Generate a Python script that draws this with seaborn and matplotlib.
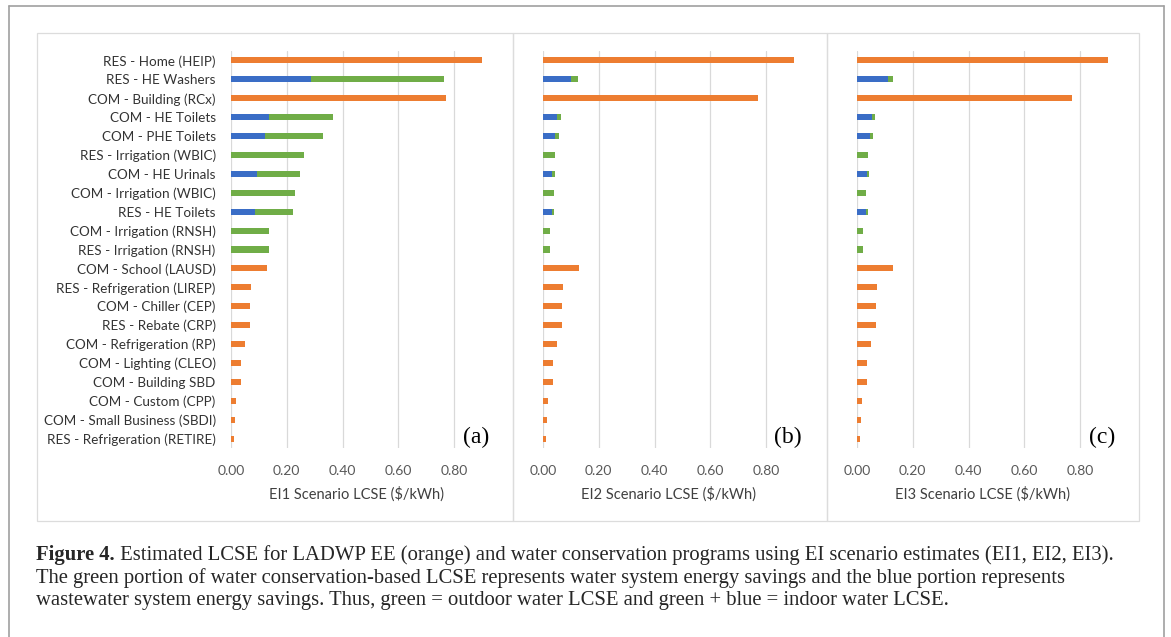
import numpy as np
import pandas as pd
import matplotlib
matplotlib.use("Agg")
import matplotlib.pyplot as plt
import seaborn as sns
from matplotlib.patches import Rectangle
from matplotlib.lines import Line2D

# ======================
# Datos
# ======================
programs = [
    "RES - Home (HEIP)", "RES - HE Washers", "COM - Building (RCx)",
    "COM - HE Toilets", "COM - PHE Toilets", "RES - Irrigation (WBIC)",
    "COM - HE Urinals", "COM - Irrigation (WBIC)", "RES - HE Toilets",
    "COM - Irrigation (RNSH)", "RES - Irrigation (RNSH)", "COM - School (LAUSD)",
    "RES - Refrigeration (LIREP)", "COM - Chiller (CEP)", "RES - Rebate (CRP)",
    "COM - Refrigeration (RP)", "COM - Lighting (CLEO)", "COM - Building SBD",
    "COM - Custom (CPP)", "COM - Small Business (SBDI)", "RES - Refrigeration (RETIRE)",
]

# EE programs (orange), same in all scenarios
ee_lcse = [0.90, 0, 0.77, 0, 0, 0, 0, 0, 0, 0, 0,
           0.128, 0.072, 0.069, 0.068, 0.050, 0.035, 0.035, 0.018, 0.014, 0.010]

# water conservation: green + blue total, and blue (wastewater) part
water_ei1 = [0, 0.765, 0, 0.366, 0.329, 0.261, 0.247, 0.229, 0.222, 0.135, 0.135,
             0, 0, 0, 0, 0, 0, 0, 0, 0, 0]
waste_ei1 = [0, 0.286, 0, 0.137, 0.123, 0, 0.092, 0, 0.085, 0, 0,
             0, 0, 0, 0, 0, 0, 0, 0, 0, 0]

water_ei2 = [0, 0.126, 0, 0.063, 0.057, 0.042, 0.043, 0.038, 0.038, 0.024, 0.024,
             0, 0, 0, 0, 0, 0, 0, 0, 0, 0]
waste_ei2 = [0, 0.099, 0, 0.051, 0.042, 0, 0.032, 0, 0.031, 0, 0,
             0, 0, 0, 0, 0, 0, 0, 0, 0, 0]

water_ei3 = [0, 0.129, 0, 0.063, 0.056, 0.038, 0.043, 0.031, 0.039, 0.022, 0.022,
             0, 0, 0, 0, 0, 0, 0, 0, 0, 0]
waste_ei3 = [0, 0.110, 0, 0.054, 0.045, 0, 0.036, 0, 0.032, 0, 0,
             0, 0, 0, 0, 0, 0, 0, 0, 0, 0]

scenario_titles = ["EI1 Scenario LCSE ($/kWh)", "EI2 Scenario LCSE ($/kWh)",
                   "EI3 Scenario LCSE ($/kWh)"]
panel_tags = ["(a)", "(b)", "(c)"]
x_ticks = [0.0, 0.2, 0.4, 0.6, 0.8]

caption_bold = "Figure 4."
caption_lines = [
    " Estimated LCSE for LADWP EE (orange) and water conservation programs using EI scenario estimates (EI1, EI2, EI3).",
    "The green portion of water conservation-based LCSE represents water system energy savings and the blue portion represents",
    "wastewater system energy savings. Thus, green = outdoor water LCSE and green + blue = indoor water LCSE.",
]

# ======================
# Estilo
# ======================
ORANGE = "#ED7D31"
GREEN = "#70AD47"
BLUE = "#3A6DC6"
GRID = "#d9d9d9"

sns.set_theme(style="white")
plt.rcParams["font.family"] = ["Lato", "DejaVu Sans"]

W, H = 1171, 637
fig = plt.figure(figsize=(W / 100, H / 100), dpi=100)

# marco exterior (solo arriba, izquierda, derecha)
frame_kw = dict(color="#a0a0a0", lw=1.2, transform=fig.transFigure)
fig.add_artist(Line2D([9 / W, 1164 / W], [1 - 6 / H, 1 - 6 / H], **frame_kw))
fig.add_artist(Line2D([9 / W, 9 / W], [0, 1 - 6 / H], **frame_kw))
fig.add_artist(Line2D([1164 / W, 1164 / W], [0, 1 - 6 / H], **frame_kw))

# cajas de cada grafico
for x0, x1 in [(37, 513), (513, 827), (827, 1139)]:
    fig.add_artist(Rectangle((x0 / W, 1 - 521 / H), (x1 - x0) / W, (521 - 33) / H,
                             transform=fig.transFigure, fill=False,
                             edgecolor="#dcdcdc", lw=0.9))

lefts = [231, 543, 857]
water_all = [water_ei1, water_ei2, water_ei3]
waste_all = [waste_ei1, waste_ei2, waste_ei3]

for i in range(3):
    ax = fig.add_axes([lefts[i] / W, 1 - 448 / H, 251 / W, 397 / H])
    df = pd.DataFrame({
        "program": programs,
        "ee": ee_lcse,
        "water": water_all[i],
        "waste": waste_all[i],
    })
    common = dict(data=df, y="program", order=programs, orient="h", width=0.32,
                  errorbar=None, saturation=1, linewidth=0, ax=ax)
    sns.barplot(x="ee", color=ORANGE, **common)
    sns.barplot(x="water", color=GREEN, **common)
    sns.barplot(x="waste", color=BLUE, **common)

    ax.set_xlim(0, 0.9)
    ax.set_ylim(20.5, -0.5)
    ax.set_xticks(x_ticks)
    ax.set_xticklabels([f"{t:.2f}" for t in x_ticks])
    ax.xaxis.grid(True, color=GRID, lw=0.9)
    ax.yaxis.grid(False)
    ax.set_axisbelow(True)
    for s in ax.spines.values():
        s.set_visible(False)
    ax.tick_params(axis="x", length=0, pad=12, labelsize=10, labelcolor="#595959")
    ax.tick_params(axis="y", length=0, pad=11, labelsize=9.7, labelcolor="#333333")
    ax.set_ylabel("")
    ax.set_xlabel(scenario_titles[i], fontsize=10.5, color="#404040", labelpad=7)
    if i > 0:
        ax.set_yticklabels([])
    ax.patch.set_alpha(0)

    fig.text((lefts[i] + 245) / W, 1 - 437 / H, panel_tags[i],
             family="Liberation Serif", fontsize=17, color="black",
             ha="center", va="center")

# ======================
# Leyenda de la figura
# ======================
serif = ["Liberation Serif", "DejaVu Serif"]
cap_size = 14.9
y1 = 1 - 555 / H
t = fig.text(36 / W, y1, caption_bold, family=serif, fontsize=cap_size,
             fontweight="bold", va="center", ha="left")
fig.canvas.draw()
bb = t.get_window_extent(renderer=fig.canvas.get_renderer())
fig.text(bb.x1 / W, y1, caption_lines[0], family=serif, fontsize=cap_size,
         va="center", ha="left")
fig.text(36 / W, 1 - 578 / H, caption_lines[1], family=serif, fontsize=cap_size,
         va="center", ha="left")
fig.text(36 / W, 1 - 601 / H, caption_lines[2], family=serif, fontsize=cap_size,
         va="center", ha="left")

fig.savefig("out.png", dpi=100)
